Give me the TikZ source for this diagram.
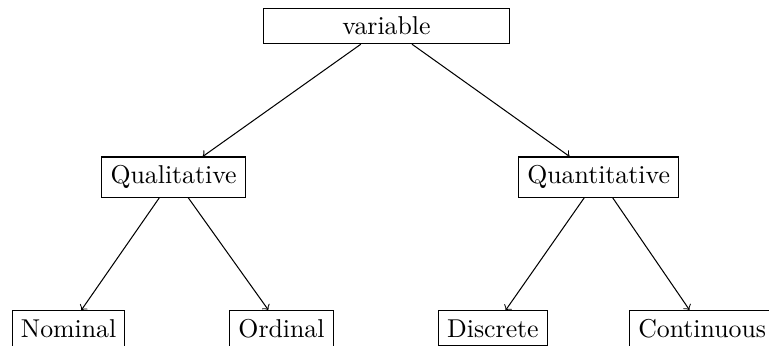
\documentclass[tikz,border=0pt]{standalone}
\usepackage{amsmath,amssymb}
\usetikzlibrary{arrows,positioning}

\begin{document}
\begin{tikzpicture}[box/.style={draw,rectangle}, on grid, node distance=2.06cm]
  \useasboundingbox (-5.265,0.354) rectangle (5.211,-4.346);
  % Root and the two kinds of variable
  \node[box,minimum width=3.34cm] (var) at (0,0) {variable};
  \node[box] (qual) [below left=2.06cm and 2.9cm of var] {Qualitative};
  \node[box] (quant) [below right=2.06cm and 2.89cm of var] {Quantitative};

  % Leaves
  \node[box] (nom) [below left=2.06cm and 1.43cm of qual] {Nominal};
  \node[box] (ord) [below right=2.06cm and 1.47cm of qual] {Ordinal};
  \node[box] (disc) [below left=2.06cm and 1.44cm of quant] {Discrete};
  \node[box] (cont) [below right=2.06cm and 1.41cm of quant] {Continuous};

  % Arrows
  \path[->]
    (var) edge (qual)
    (var) edge (quant)
    (qual) edge (nom)
    (qual) edge (ord)
    (quant) edge (disc)
    (quant) edge (cont);
\end{tikzpicture}
\end{document}
